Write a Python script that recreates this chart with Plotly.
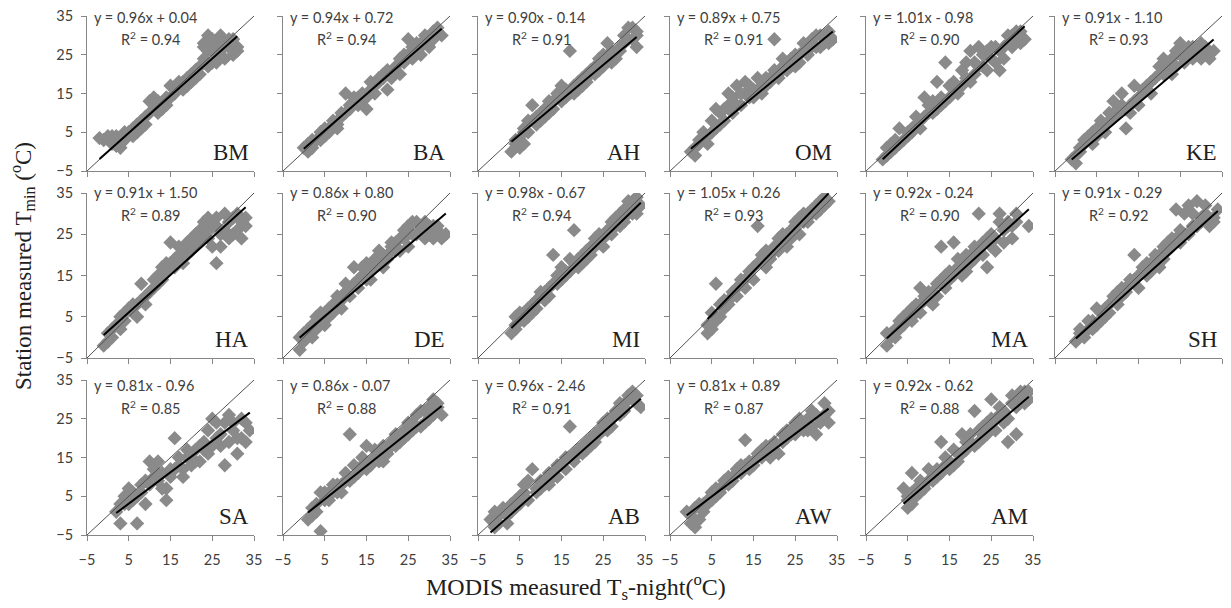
import plotly.graph_objects as go

# ---------------- data ----------------
labels = ["BM", "BA", "AH", "OM", "", "KE",
          "HA", "DE", "MI", "", "MA", "SH",
          "SA", "", "AB", "AW", "AM"]
slopes = [0.96, 0.94, 0.90, 0.89, 1.01, 0.91,
          0.91, 0.86, 0.98, 1.05, 0.92, 0.91,
          0.81, 0.86, 0.96, 0.81, 0.92]
intercepts = [0.04, 0.72, -0.14, 0.75, -0.98, -1.10,
              1.50, 0.80, -0.67, 0.26, -0.24, -0.29,
              -0.96, -0.07, -2.46, 0.89, -0.62]
r2_values = ["0.94", "0.94", "0.91", "0.91", "0.90", "0.93",
             "0.89", "0.90", "0.94", "0.93", "0.90", "0.92",
             "0.85", "0.88", "0.91", "0.87", "0.88"]
tick_values = [-5, 5, 15, 25, 35]
axis_range = [-5, 35]

p01_x = [-2, -1, 0, 1, 2, 2, 3, 4, 5, 6, 7, 8, 9, 10, 10, 11, 12, 13, 14, 15, 15, 16, 17, 18, 19, 20, 21, 22, 23, 23, 24, 24, 25, 25, 26, 27, 27, 28, 28, 29, 30, 30, 31,
         1, 3, 4, 6, 7, 8, 9, 11, 12, 13, 14, 16, 17, 18, 19, 20, 21, 22, 24, 26, 27, 29, 30, 31, 25, 23]
p01_y = [3.5, 3, 4, 2, 1.5, 4, 3, 5, 5, 6, 7, 8, 9, 10, 13, 14, 10, 12, 14, 14, 17, 16, 17, 18, 19, 20, 19, 22, 24, 28, 26, 30, 23, 27, 25, 30, 26, 28, 24, 27, 29, 25, 27,
         4, 1, 3, 4, 5, 6, 7, 11, 13, 11, 12, 15, 18, 16, 17, 18, 21, 20, 22, 23, 28, 29, 26, 26, 29, 27]

p02_x = [0, 1, 2, 3, 4, 5, 6, 7, 8, 9, 10, 10, 11, 12, 13, 14, 15, 16, 16, 17, 18, 19, 20, 20, 21, 22, 23, 24, 25, 25, 26, 27, 28, 29, 30, 31, 32, 33,
         1, 2, 4, 5, 6, 8, 9, 11, 12, 13, 14, 15, 17, 18, 19, 21, 22, 23, 24, 26, 27, 28, 29, 30, 31, 32]
p02_y = [1, 2, 1, 3, 5, 4, 6, 8, 7, 9, 10, 15, 12, 13, 14, 13, 11, 16, 18, 17, 19, 19, 16, 21, 20, 22, 24, 23, 29, 25, 27, 26, 27, 29, 28, 31, 32, 30,
         0, 3, 3, 6, 5, 6, 10, 11, 14, 12, 15, 14, 15, 18, 20, 19, 21, 20, 25, 24, 28, 25, 30, 27, 29, 31]

p03_x = [3, 4, 5, 5, 6, 7, 8, 8, 9, 10, 11, 12, 13, 14, 15, 15, 16, 17, 18, 19, 20, 21, 22, 23, 24, 25, 26, 26, 27, 28, 29, 30, 30, 31, 32, 33, 33,
         4, 6, 6, 7, 9, 10, 11, 12, 13, 14, 16, 17, 18, 19, 20, 21, 22, 23, 24, 25, 27, 28, 29, 31, 32, 33]
p03_y = [0, 2, 3, 1, 5, 5, 8, 12, 7, 10, 9, 10, 13, 15, 13, 17, 16, 26, 15, 18, 17, 20, 21, 20, 24, 22, 24, 28, 23, 25, 27, 28, 30, 32, 29, 31, 27,
         3, 2, 6, 8, 9, 8, 11, 13, 11, 14, 14, 15, 17, 16, 19, 18, 20, 22, 21, 25, 26, 24, 26, 29, 32, 30]

p04_x = [0, 1, 2, 3, 3, 4, 5, 6, 6, 7, 8, 9, 9, 10, 11, 12, 13, 13, 14, 15, 16, 17, 18, 19, 20, 20, 21, 22, 23, 24, 25, 26, 27, 28, 29, 30, 31, 32, 33, 34,
         1, 2, 4, 5, 7, 8, 10, 11, 12, 14, 15, 16, 17, 18, 19, 21, 22, 23, 24, 25, 26, 27, 28, 29, 30, 31, 32, 33]
p04_y = [0, 1, 2, 3, 5, 4, 8, 6, 11, 10, 8, 15, 12, 14, 17, 12, 18, 15, 14, 16, 16, 18, 17, 19, 29, 21, 20, 24, 21, 24, 22, 25, 28, 25, 28, 27, 30, 28, 31, 29,
         -1, 3, 2, 5, 7, 11, 10, 12, 15, 17, 14, 19, 15, 19, 18, 19, 22, 23, 22, 25, 23, 26, 26, 29, 30, 27, 30, 28]

p05_x = [-1, 0, 1, 2, 3, 4, 5, 6, 7, 8, 9, 10, 11, 12, 13, 13, 14, 15, 16, 17, 18, 19, 20, 20, 21, 22, 22, 23, 24, 25, 26, 27, 28, 29, 30, 31, 32, 33,
         0, 1, 2, 3, 5, 6, 7, 8, 9, 10, 11, 12, 14, 15, 16, 17, 18, 19, 21, 23, 24, 25, 26, 27, 28, 29, 30, 31, 32]
p05_y = [-2, -1, 0, 1, 6, 3, 4, 6, 9, 8, 14, 10, 13, 18, 12, 14, 23, 14, 16, 16, 21, 23, 18, 26, 20, 22, 27, 22, 26, 24, 27, 21, 27, 28, 30, 29, 31, 29,
         1, 2, 3, 2, 5, 5, 7, 6, 9, 12, 10, 11, 13, 17, 18, 15, 17, 19, 23, 25, 21, 27, 23, 26, 24, 30, 27, 31, 28]

p06_x = [-1, 0, 1, 2, 3, 4, 5, 6, 7, 8, 9, 9, 10, 11, 12, 12, 13, 14, 15, 16, 17, 18, 19, 20, 21, 22, 23, 24, 25, 26, 27, 28, 29, 30, 31, 32, 33,
         0, 1, 2, 3, 4, 5, 6, 7, 8, 10, 11, 13, 14, 15, 16, 17, 18, 20, 21, 22, 23, 24, 25, 26, 27, 28, 29, 30, 31, 32]
p06_y = [-2, -3, 1, 2, 3, 5, 4, 6, 7, 8, 13, 9, 10, 15, 11, 6, 12, 13, 14, 15, 16, 15, 19, 22, 24, 21, 20, 26, 28, 23, 25, 27, 27, 24, 26, 25, 26,
         -1, 0, 3, 4, 2, 6, 8, 5, 10, 11, 12, 10, 17, 12, 16, 17, 18, 20, 20, 23, 24, 22, 25, 26, 27, 24, 25, 28, 27, 24]

p07_x = [-1, 0, 1, 2, 3, 4, 5, 6, 7, 8, 9, 10, 11, 12, 13, 14, 15, 15, 16, 17, 18, 19, 20, 21, 22, 23, 24, 24, 25, 26, 26, 27, 28, 29, 30, 31, 32, 33,
         0, 1, 3, 4, 6, 7, 8, 9, 11, 12, 13, 14, 16, 17, 18, 19, 20, 21, 22, 23, 24, 25, 26, 27, 28, 29, 30, 31, 32, 33]
p07_y = [-2, 1, 0, 3, 5, 4, 7, 6, 8, 13, 10, 11, 14, 15, 17, 16, 18, 23, 19, 20, 21, 20, 24, 22, 26, 28, 24, 29, 22, 27, 18, 25, 30, 24, 29, 26, 28, 27,
         -1, 2, 2, 6, 8, 5, 9, 8, 12, 13, 14, 18, 17, 22, 18, 23, 21, 25, 23, 24, 26, 27, 29, 22, 26, 28, 25, 30, 24, 29]

p08_x = [-1, -1, 0, 1, 2, 3, 4, 5, 6, 7, 8, 9, 10, 11, 12, 12, 13, 14, 15, 16, 17, 18, 19, 20, 21, 22, 23, 24, 25, 26, 27, 28, 29, 30, 31, 32, 33, 34,
         0, 2, 3, 4, 5, 6, 7, 8, 9, 10, 11, 13, 14, 15, 16, 17, 18, 19, 20, 21, 22, 23, 24, 25, 26, 27, 28, 29, 30, 31, 32]
p08_y = [-3, 0, 1, 2, 3, 5, 4, 6, 5, 8, 10, 9, 11, 10, 17, 13, 14, 15, 18, 14, 19, 21, 17, 20, 22, 23, 21, 24, 27, 28, 25, 26, 28, 25, 27, 26, 24, 25,
         -1, 0, 2, 6, 3, 7, 6, 8, 7, 13, 12, 12, 17, 14, 16, 17, 18, 20, 19, 23, 21, 24, 26, 22, 25, 28, 27, 24, 27, 24, 27]

p09_x = [3, 4, 4, 5, 6, 7, 8, 9, 10, 11, 12, 13, 13, 14, 15, 16, 17, 18, 18, 19, 20, 21, 22, 23, 24, 25, 26, 27, 28, 29, 30, 30, 31, 32, 33, 33, 34,
         4, 5, 6, 7, 8, 9, 10, 11, 12, 14, 15, 16, 17, 19, 20, 21, 22, 23, 24, 25, 26, 27, 28, 29, 30, 31, 32, 33]
p09_y = [1, 2, 5, 4, 6, 7, 6, 9, 10, 9, 12, 20, 13, 15, 14, 16, 16, 26, 18, 17, 20, 19, 22, 24, 23, 24, 26, 28, 29, 27, 31, 28, 33, 30, 34, 31, 32,
         3, 6, 4, 5, 8, 7, 11, 11, 10, 13, 17, 15, 19, 19, 18, 21, 20, 22, 25, 22, 25, 25, 27, 30, 29, 31, 33, 30]

p10_x = [4, 5, 5, 6, 7, 7, 8, 9, 10, 11, 12, 13, 14, 15, 16, 16, 17, 18, 19, 20, 21, 22, 23, 24, 25, 26, 27, 28, 29, 30, 31, 32, 33,
         4, 5, 6, 8, 9, 10, 11, 12, 13, 14, 15, 17, 18, 19, 20, 21, 22, 23, 24, 25, 26, 27, 28, 29, 30, 31, 32]
p10_y = [1, 3, 6, 13, 5, 8, 7, 9, 11, 12, 13, 14, 16, 17, 27, 18, 18, 21, 20, 22, 24, 23, 25, 26, 27, 29, 30, 28, 31, 32, 33, 32, 33,
         3, 2, 4, 9, 8, 10, 10, 14, 12, 15, 14, 20, 17, 19, 21, 21, 25, 22, 24, 28, 25, 28, 30, 30, 30, 31, 34]

p11_x = [0, 0, 1, 2, 3, 4, 5, 6, 7, 8, 8, 9, 10, 11, 12, 13, 13, 14, 15, 16, 16, 17, 18, 19, 20, 21, 22, 22, 23, 24, 25, 26, 27, 28, 29, 30, 31, 34,
         1, 2, 3, 4, 5, 6, 7, 8, 9, 10, 11, 12, 14, 15, 17, 18, 19, 20, 21, 23, 24, 25, 26, 27, 28, 29, 30, 31]
p11_y = [-2, 1, 0, 2, 4, 3, 5, 7, 6, 12, 8, 9, 11, 8, 13, 22, 14, 12, 16, 23, 15, 17, 18, 16, 20, 19, 30, 21, 23, 17, 25, 24, 30, 26, 28, 27, 30, 27,
         1, 0, 2, 5, 6, 4, 8, 6, 10, 9, 11, 10, 15, 14, 19, 15, 20, 18, 22, 20, 24, 22, 21, 28, 23, 27, 24, 28]

p12_x = [0, 1, 2, 3, 4, 5, 5, 6, 7, 8, 9, 10, 11, 12, 13, 14, 14, 15, 16, 17, 18, 19, 20, 21, 22, 23, 24, 25, 26, 26, 27, 28, 29, 30, 31, 32, 33, 34,
         1, 2, 3, 4, 6, 7, 8, 9, 10, 11, 12, 13, 15, 16, 17, 18, 19, 20, 21, 22, 23, 24, 25, 27, 28, 29, 30, 31, 32, 33]
p12_y = [-1, 1, 0, 2, 4, 3, 7, 6, 5, 8, 9, 11, 10, 12, 13, 20, 14, 15, 16, 18, 17, 19, 20, 22, 21, 24, 31, 23, 30, 25, 32, 27, 33, 28, 30, 27, 29, 31,
         2, 1, 4, 2, 4, 7, 6, 10, 8, 12, 11, 14, 12, 17, 15, 16, 20, 17, 19, 23, 22, 24, 26, 25, 30, 27, 29, 32, 29, 28]

p13_x = [2, 3, 4, 5, 6, 7, 7, 8, 9, 10, 10, 11, 12, 13, 14, 14, 15, 16, 16, 17, 18, 19, 20, 21, 22, 23, 24, 25, 26, 27, 28, 28, 29, 30, 31, 32, 33, 34,
         3, 4, 5, 6, 8, 9, 11, 12, 13, 15, 17, 18, 19, 20, 21, 22, 23, 24, 25, 26, 27, 29, 30, 31, 32, 33]
p13_y = [1, -2, 3, 7, 4, -2, 5, 6, 3, 8, 14, 10, 9, 11, 4, 7, 10, 20, 12, 13, 12, 15, 13, 17, 14, 19, 16, 25, 20, 18, 13, 24, 26, 22, 16, 20, 24, 22,
         3, 5, 3, 6, 8, 9, 12, 14, 7, 12, 15, 10, 17, 16, 14, 18, 17, 22, 18, 24, 21, 19, 24, 20, 25, 19]

p14_x = [1, 2, 3, 4, 5, 5, 6, 7, 8, 9, 10, 11, 12, 13, 14, 15, 15, 16, 17, 18, 19, 20, 21, 22, 23, 24, 25, 26, 27, 28, 29, 30, 31, 32, 33,
         2, 3, 4, 6, 7, 8, 9, 10, 11, 12, 13, 14, 16, 17, 18, 19, 20, 21, 22, 23, 24, 25, 26, 27, 28, 29, 30, 31, 32]
p14_y = [-1, 2, 1, -4, 4, 6, 5, 7, 6, 8, 9, 21, 10, 12, 13, 12, 18, 14, 15, 16, 14, 17, 19, 18, 20, 22, 21, 24, 26, 23, 27, 25, 30, 28, 26,
         0, 3, 6, 4, 8, 8, 6, 11, 9, 13, 11, 15, 13, 17, 14, 18, 16, 18, 21, 19, 20, 24, 22, 23, 27, 24, 28, 26, 29]

p15_x = [-2, -1, 0, 1, 2, 3, 4, 5, 6, 7, 8, 9, 10, 11, 12, 13, 14, 15, 16, 17, 17, 18, 19, 20, 21, 22, 23, 24, 25, 26, 27, 28, 29, 30, 31, 32, 33, 34,
         -1, 0, 1, 2, 3, 4, 5, 6, 7, 9, 10, 11, 12, 13, 14, 16, 18, 19, 20, 21, 22, 23, 24, 25, 26, 27, 28, 29, 30, 31, 32, 33]
p15_y = [-1, -3, 0, 1, -2, 3, 2, 5, 8, 4, 12, 6, 7, 9, 8, 11, 10, 13, 12, 23, 15, 14, 16, 18, 17, 20, 19, 21, 24, 22, 25, 27, 26, 28, 30, 32, 29, 28,
         1, -2, 2, 0, 1, 4, 3, 6, 9, 7, 9, 8, 11, 10, 13, 15, 16, 17, 16, 19, 18, 21, 22, 22, 25, 23, 26, 29, 27, 31, 30, 31]

p16_x = [-1, 0, 1, 1, 2, 3, 4, 5, 6, 7, 8, 9, 10, 11, 12, 13, 13, 14, 15, 16, 17, 18, 19, 20, 21, 22, 23, 24, 25, 26, 27, 28, 29, 30, 31, 32, 33,
         0, 2, 3, 4, 5, 6, 7, 8, 9, 10, 11, 12, 14, 15, 16, 17, 18, 19, 20, 22, 23, 24, 25, 26, 27, 28, 29, 30, 31, 32, 33]
p16_y = [1, -2, -3, 2, 3, 1, 4, 6, 5, 7, 9, 8, 10, 12, 11, 19.5, 13, 12, 14, 15, 17, 16, 18, 19, 16, 21, 20, 22, 24, 23, 22, 25, 27, 21, 25, 29, 27,
         0, -1, 3, 3, 4, 7, 6, 8, 10, 9, 11, 13, 14, 13, 16, 15, 18, 15, 17, 19, 22, 21, 21, 25, 24, 22, 23, 26, 24, 26, 24]

p17_x = [4, 5, 5, 6, 6, 7, 8, 9, 10, 11, 12, 13, 13, 14, 15, 16, 17, 18, 19, 20, 21, 21, 22, 23, 24, 25, 25, 26, 27, 28, 29, 30, 31, 32, 33, 34,
         5, 6, 7, 8, 9, 10, 11, 12, 14, 15, 16, 17, 18, 19, 20, 22, 23, 24, 25, 26, 27, 28, 29, 30, 31, 32, 33, 34]
p17_y = [7, 4, 2, 11, 3, 5, 6, 8, 12, 9, 10, 19, 11, 13, 14, 13, 16, 21, 17, 19, 27, 18, 22, 20, 24, 23, 30, 25, 26, 24, 19, 31, 21, 30, 32, 30,
         5, 6, 7, 9, 7, 9, 11, 12, 15, 12, 17, 14, 16, 19, 21, 19, 23, 21, 25, 22, 28, 27, 25, 29, 28, 32, 29, 32]

points_x = [p01_x, p02_x, p03_x, p04_x, p05_x, p06_x, p07_x, p08_x, p09_x,
            p10_x, p11_x, p12_x, p13_x, p14_x, p15_x, p16_x, p17_x]
points_y = [p01_y, p02_y, p03_y, p04_y, p05_y, p06_y, p07_y, p08_y, p09_y,
            p10_y, p11_y, p12_y, p13_y, p14_y, p15_y, p16_y, p17_y]

# ---------------- layout geometry (pixels) ----------------
W, H = 1231, 608
col_x0 = [87, 283, 478, 670, 866, 1055]
PW = 167
row_top = [16, 193, 380]
row_bot = [171, 358, 535]

AXIS_COLOR = "#868686"
SANS = "Lato, 'Open Sans', sans-serif"
SERIF = "'Liberation Serif', 'Times New Roman', serif"
TICK_FONT = dict(family=SANS, size=14.5, color="#404040")
MARKER_COLOR = "#8a8a8a"

fig = go.Figure()
layout = {}
annotations = []

for k in range(len(points_x)):
    r, c = divmod(k, 6)
    suf = "" if k == 0 else str(k + 1)
    x0 = col_x0[c]
    x1 = x0 + PW
    top, bot = row_top[r], row_bot[r]
    common = dict(range=axis_range, tickvals=tick_values, showgrid=False, zeroline=False,
                  showline=True, linecolor=AXIS_COLOR, linewidth=1, automargin=False,
                  ticks="outside", ticklen=5, tickcolor=AXIS_COLOR, tickwidth=1,
                  tickfont=TICK_FONT, fixedrange=True)
    layout["xaxis" + suf] = dict(domain=[x0 / W, x1 / W], anchor="y" + suf,
                                 showticklabels=(r == 2), ticklabelstandoff=7, **common)
    layout["yaxis" + suf] = dict(domain=[1 - bot / H, 1 - top / H], anchor="x" + suf,
                                 showticklabels=(c == 0), ticklabelstandoff=5, **common)

    xs, ys = points_x[k], points_y[k]
    fig.add_trace(go.Scatter(x=xs, y=ys, mode="markers",
                             marker=dict(symbol="diamond", size=11, color=MARKER_COLOR,
                                         line=dict(width=0)),
                             xaxis="x" + suf, yaxis="y" + suf, showlegend=False,
                             hoverinfo="skip"))
    # 1:1 line
    fig.add_trace(go.Scatter(x=axis_range, y=axis_range, mode="lines",
                             line=dict(color="#505050", width=1),
                             xaxis="x" + suf, yaxis="y" + suf, showlegend=False,
                             hoverinfo="skip"))
    # regression line
    s, b = slopes[k], intercepts[k]
    xr = [min(xs), max(xs)]
    yr = [s * v + b for v in xr]
    fig.add_trace(go.Scatter(x=xr, y=yr, mode="lines",
                             line=dict(color="#000000", width=2),
                             xaxis="x" + suf, yaxis="y" + suf, showlegend=False,
                             hoverinfo="skip"))

    sign = "+" if b >= 0 else "-"
    eq = f"y = {s:.2f}x {sign} {abs(b):.2f}"
    eq_dy = [1, 0, 6][r]
    annotations.append(dict(text=eq, xref="paper", yref="paper",
                            x=(x0 + 5) / W, y=1 - (top + eq_dy) / H,
                            xanchor="left", yanchor="middle", showarrow=False,
                            font=dict(family=SANS, size=14.5, color="#404040")))
    annotations.append(dict(text=f"R<sup>2</sup> = {r2_values[k]}", xref="paper", yref="paper",
                            x=(x0 + 32) / W, y=1 - (top + eq_dy + 21) / H,
                            xanchor="left", yanchor="middle", showarrow=False,
                            font=dict(family=SANS, size=14.5, color="#404040")))
    if labels[k]:
        annotations.append(dict(text=labels[k], xref="paper", yref="paper",
                                x=(x1 - 3) / W, y=1 - (bot - 4) / H,
                                xanchor="right", yanchor="bottom", showarrow=False,
                                font=dict(family=SERIF, size=23, color="#202020")))

annotations.append(dict(text="Station measured T<sub>min</sub> (<sup>o</sup>C)",
                        xref="paper", yref="paper", x=22 / W, y=1 - 266 / H,
                        xanchor="center", yanchor="middle", textangle=-90, showarrow=False,
                        font=dict(family=SERIF, size=23, color="#202020")))
annotations.append(dict(text="MODIS measured T<sub>s</sub>-night(<sup>o</sup>C)",
                        xref="paper", yref="paper", x=576 / W, y=1 - 587 / H,
                        xanchor="center", yanchor="middle", showarrow=False,
                        font=dict(family=SERIF, size=24, color="#202020")))

fig.update_layout(template="none", width=W, height=H, autosize=False,
                  margin=dict(l=0, r=0, t=0, b=0, pad=0),
                  paper_bgcolor="white", plot_bgcolor="white",
                  annotations=annotations, **layout)

fig.write_html("out.html", config={"displayModeBar": False},
               post_script="document.body.style.margin='0px';document.body.style.overflow='hidden';")
